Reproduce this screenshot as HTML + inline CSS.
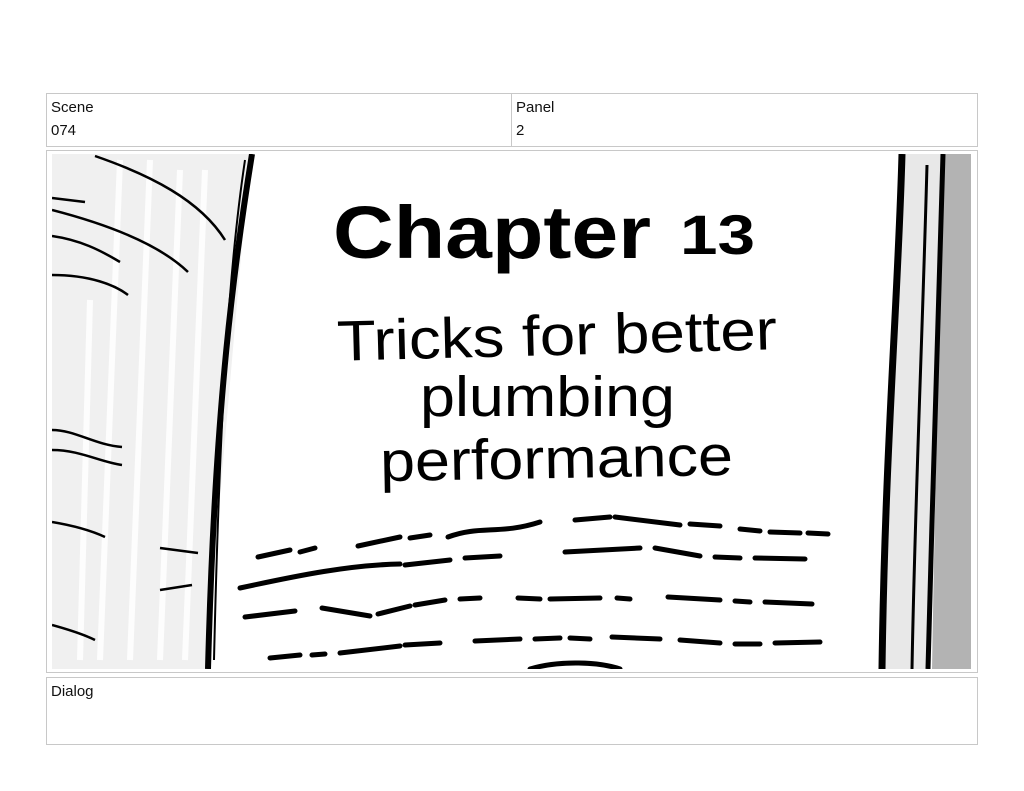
<!DOCTYPE html>
<html><head><style>
body{margin:0;width:1024px;height:791px;background:#fff;font-family:"Liberation Sans",sans-serif;position:relative;overflow:hidden}
.b{position:absolute;border:1px solid #c8c8c8;box-sizing:border-box}
.t{position:absolute;font-size:15px;color:#111}
</style></head><body>
<div class="b" style="left:46px;top:93px;width:932px;height:54px"></div>
<div class="b" style="left:511px;top:93px;width:1px;height:54px;border-width:0 0 0 1px"></div>
<div class="t" style="left:51px;top:99px">Scene</div>
<div class="t" style="left:51px;top:122px">074</div>
<div class="t" style="left:516px;top:99px">Panel</div>
<div class="t" style="left:516px;top:122px">2</div>
<div class="b" style="left:46px;top:150px;width:932px;height:523px"></div>
<div class="b" style="left:46px;top:677px;width:932px;height:68px"></div>
<div class="t" style="left:51px;top:683px">Dialog</div>
<svg style="position:absolute;left:52px;top:154px" width="920" height="515" viewBox="52 154 920 515">
<rect x="52" y="154" width="920" height="515" fill="#fff"/>
<path d="M52 154 L250 154 L205 669 L52 669Z" fill="#f0f0f0"/>
<g stroke="#fff" stroke-width="6" fill="none" opacity=".9">
<path d="M120 160 L100 660"/><path d="M150 160 L130 660"/><path d="M180 170 L160 660"/><path d="M205 170 L185 660"/><path d="M90 300 L80 660"/>
</g>
<path d="M252 154 C235 260 215 400 208 669" stroke="#000" stroke-width="6" fill="none"/>
<path d="M245 160 C230 260 220 400 214 660" stroke="#000" stroke-width="2" fill="none"/>
<g stroke="#000" stroke-width="2.5" fill="none">
<path d="M95 156 C150 175 200 200 225 240"/>
<path d="M52 198 L85 202"/><path d="M52 210 C110 225 160 245 188 272"/>
<path d="M52 236 C80 240 100 250 120 262"/><path d="M52 275 C90 275 115 285 128 295"/>
<path d="M52 430 C75 430 95 445 122 447"/><path d="M52 450 C80 450 100 462 122 465"/>
<path d="M52 522 C70 525 90 530 105 537"/><path d="M160 548 L198 553"/><path d="M160 590 L192 585"/>
<path d="M52 625 C70 630 85 635 95 640"/>
</g>
<path d="M900 154 L945 154 L930 669 L880 669Z" fill="#e8e8e8"/>
<path d="M945 154 L971 154 L971 669 L932 669 C935 500 938 350 945 154Z" fill="#b3b3b3"/>
<path d="M902 154 C898 300 885 450 882 669" stroke="#000" stroke-width="7" fill="none"/>
<path d="M927 165 C922 350 915 500 912 669" stroke="#000" stroke-width="3" fill="none"/>
<path d="M943 154 C938 350 932 500 928 669" stroke="#000" stroke-width="5" fill="none"/>
<text x="333" y="258" font-size="74" font-weight="bold" textLength="318" lengthAdjust="spacingAndGlyphs" font-family="Liberation Sans">Chapter</text>
<text x="680" y="254" font-size="56" font-weight="bold" textLength="75" lengthAdjust="spacingAndGlyphs" font-family="Liberation Sans">13</text>
<text x="337" y="355" font-size="57" textLength="440" lengthAdjust="spacingAndGlyphs" transform="rotate(-1.5 557 340)" font-family="Liberation Sans">Tricks for better</text>
<text x="420" y="416" font-size="57" textLength="255" lengthAdjust="spacingAndGlyphs" font-family="Liberation Sans">plumbing</text>
<text x="380" y="478" font-size="57" textLength="353" lengthAdjust="spacingAndGlyphs" transform="rotate(-1 557 460)" font-family="Liberation Sans">performance</text>
<g stroke="#000" stroke-width="5" fill="none" stroke-linecap="round">
<path d="M258 557 L290 550 M300 552 L315 548 M358 546 L400 537 M410 538 L430 535 M448 537 C480 525 500 535 540 522 M575 520 L610 517 M615 517 L680 525 M690 524 L720 526 M740 529 L760 531 M770 532 L800 533 M808 533 L828 534"/>
<path d="M240 588 C300 575 350 565 400 564 M405 565 L450 560 M465 558 L500 556 M565 552 L640 548 M655 548 L700 556 M715 557 L740 558 M755 558 L805 559"/>
<path d="M245 617 L295 611 M322 608 L370 616 M378 614 L410 606 M415 605 L445 600 M460 599 L480 598 M518 598 L540 599 M550 599 L600 598 M617 598 L630 599 M668 597 L720 600 M735 601 L750 602 M765 602 L812 604"/>
<path d="M270 658 L300 655 M312 655 L325 654 M340 653 L400 646 M405 645 L440 643 M475 641 L520 639 M535 639 L560 638 M570 638 L590 639 M612 637 L660 639 M680 640 L720 643 M735 644 L760 644 M775 643 L820 642"/>
<path d="M530 669 C560 660 600 662 620 669"/>
</g>
</svg>
</body></html>
